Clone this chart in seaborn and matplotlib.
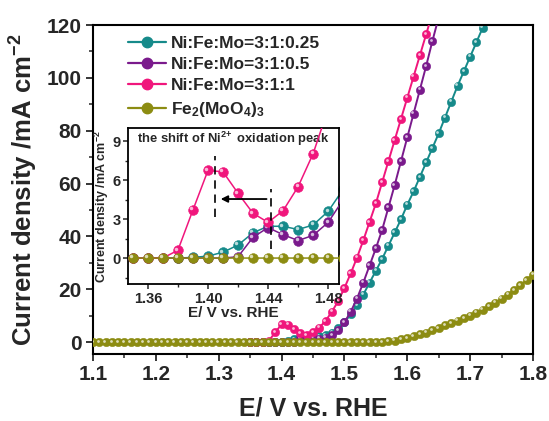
import numpy as np
import pandas as pd
import matplotlib
matplotlib.use("Agg")
import matplotlib.pyplot as plt
import seaborn as sns
from matplotlib.transforms import ScaledTranslation
from matplotlib.lines import Line2D

# ---------------- data ----------------
labels = ["Ni:Fe:Mo=3:1:0.25", "Ni:Fe:Mo=3:1:0.5", "Ni:Fe:Mo=3:1:1", r"Fe$_2$(MoO$_4$)$_3$"]
colors = ["#168A8A", "#7A1A8C", "#F0167C", "#8C8C12"]

E_teal = [1.35, 1.36, 1.37, 1.38, 1.39, 1.40, 1.41, 1.42, 1.43, 1.44, 1.45, 1.46, 1.47, 1.48,
          1.49, 1.50, 1.51, 1.52, 1.53, 1.54, 1.55, 1.56, 1.57, 1.58, 1.59, 1.60, 1.61, 1.62,
          1.63, 1.64, 1.65, 1.66, 1.67, 1.68, 1.69, 1.70, 1.71, 1.72]
j_teal = [0, 0, 0, 0, 0.05, 0.15, 0.45, 1.0, 1.95, 2.45, 2.45, 2.2, 2.55, 3.6,
          5.3, 7.5, 10.5, 14.0, 18.0, 22.5, 27.0, 31.5, 36.5, 41.5, 46.5, 52.0, 57.0, 62.5,
          68.0, 73.5, 79.0, 85.0, 91.0, 97.0, 102.5, 108.0, 113.5, 119.0]

E_purple = [1.35, 1.36, 1.37, 1.38, 1.39, 1.40, 1.41, 1.42, 1.43, 1.44, 1.45, 1.46, 1.47, 1.48,
            1.49, 1.50, 1.51, 1.52, 1.53, 1.54, 1.55, 1.56, 1.57, 1.58, 1.59, 1.60, 1.61, 1.62,
            1.63, 1.64, 1.65]
j_purple = [0, 0, 0, 0, 0, 0, 0, 0.1, 1.6, 2.35, 1.8, 1.35, 1.75, 2.75,
            4.5, 7.5, 11.5, 16.5, 22.5, 29.0, 35.5, 42.5, 51.0, 59.5, 68.5, 77.5, 86.5, 95.5,
            104.5, 114.0, 123.0]

E_pink = [1.35, 1.36, 1.37, 1.38, 1.39, 1.40, 1.41, 1.42, 1.43, 1.44, 1.45, 1.46, 1.47, 1.48,
          1.49, 1.50, 1.51, 1.52, 1.53, 1.54, 1.55, 1.56, 1.57, 1.58, 1.59, 1.60, 1.61, 1.62,
          1.63, 1.64]
j_pink = [0, 0, 0, 0.6, 3.7, 6.75, 6.65, 5.0, 3.45, 2.75, 3.65, 5.5, 8.05, 11.5,
          15.5, 20.5, 26.0, 32.0, 38.5, 45.5, 52.5, 60.5, 68.5, 76.5, 84.5, 92.5, 100.5, 108.5,
          116.5, 124.5]

E_olive = [1.10, 1.11, 1.12, 1.13, 1.14, 1.15, 1.16, 1.17, 1.18, 1.19, 1.20, 1.21, 1.22, 1.23,
           1.24, 1.25, 1.26, 1.27, 1.28, 1.29, 1.30, 1.31, 1.32, 1.33, 1.34, 1.35, 1.36, 1.37,
           1.38, 1.39, 1.40, 1.41, 1.42, 1.43, 1.44, 1.45, 1.46, 1.47, 1.48, 1.49, 1.50, 1.51,
           1.52, 1.53, 1.54, 1.55, 1.56, 1.57, 1.58, 1.59, 1.60, 1.61, 1.62, 1.63, 1.64, 1.65,
           1.66, 1.67, 1.68, 1.69, 1.70, 1.71, 1.72, 1.73, 1.74, 1.75, 1.76, 1.77, 1.78, 1.79, 1.80]
j_olive = [0]*46 + [0.1, 0.3, 0.6, 1.0, 1.6, 2.2, 2.9, 3.6, 4.5, 5.4,
                    6.3, 7.2, 8.1, 9.0, 10.0, 11.1, 12.3, 13.5, 14.9, 16.4, 18.0, 19.7, 21.5, 23.5, 25.5]

series = [(E_teal, j_teal), (E_purple, j_purple), (E_pink, j_pink), (E_olive, j_olive)]

# dashed guide lines and arrow of the inset
peak_new = 1.405
peak_old = 1.442

# ---------------- style ----------------
sns.set_theme(style="ticks")
plt.rcParams["font.family"] = ["Liberation Sans", "DejaVu Sans"]
plt.rcParams["mathtext.fontset"] = "custom"
plt.rcParams["mathtext.rm"] = "Liberation Sans:bold"
plt.rcParams["mathtext.bf"] = "Liberation Sans:bold"
plt.rcParams["mathtext.it"] = "Liberation Sans:bold"
plt.rcParams["mathtext.default"] = "rm"

fig = plt.figure(figsize=(5.49, 4.21), dpi=100)
ax = fig.add_axes([0.1694, 0.1591, 0.8015, 0.7815])
axi = fig.add_axes([0.2337, 0.3254, 0.3832, 0.3698])


def lighten(c, f):
    r, g, b = matplotlib.colors.to_rgb(c)
    return (r + (1 - r) * f, g + (1 - g) * f, b + (1 - b) * f)


def draw(a, ms, lw, hl_ms, off):
    for k, ((E, j), col, lab) in enumerate(zip(series, colors, labels)):
        df = pd.DataFrame({"E": E, "j": j})
        sns.lineplot(data=df, x="E", y="j", ax=a, color=col, lw=lw, marker="o",
                     markersize=ms, markeredgecolor=col, markeredgewidth=0.4,
                     sort=False, estimator=None, zorder=2 + k, legend=False)
        tr = a.transData + ScaledTranslation(-off, off, fig.dpi_scale_trans)
        a.plot(E, j, "o", ms=hl_ms, color=lighten(col, 0.7), mec="none",
               transform=tr, zorder=2.5 + k)


# ---------------- main axes ----------------
draw(ax, 6.0, 1.4, 2.0, 0.013)
ax.set_xlim(1.1, 1.8)
ax.set_ylim(-4.5, 120)
ax.set_xticks([1.1, 1.2, 1.3, 1.4, 1.5, 1.6, 1.7, 1.8])
ax.set_xticks(np.arange(1.15, 1.8, 0.1), minor=True)
ax.set_yticks([0, 20, 40, 60, 80, 100, 120])
ax.set_yticks([10, 30, 50, 70, 90, 110], minor=True)
ax.tick_params(which="major", direction="out", length=5, width=1.3, labelsize=15, pad=3)
ax.tick_params(which="minor", direction="out", length=3, width=1.1)
for lab in ax.get_xticklabels() + ax.get_yticklabels():
    lab.set_fontweight("bold")
for s in ax.spines.values():
    s.set_linewidth(1.5)
    s.set_color("black")
ax.set_xlabel("E/ V vs. RHE", fontsize=18, fontweight="bold", labelpad=9)
ax.set_ylabel(r"Current density /mA cm$^{-2}$", fontsize=18.5, fontweight="bold", labelpad=5)

handles = [Line2D([], [], color=c, lw=1.6, marker="o", ms=7.5, mec=c) for c in colors]
leg = ax.legend(handles, labels, loc="upper left", bbox_to_anchor=(0.055, 1.0),
                frameon=False, prop={"weight": "bold", "size": 12.5}, handlelength=2.2,
                handletextpad=0.3, labelspacing=0.36, borderaxespad=0.2)

# ---------------- inset ----------------
draw(axi, 7.0, 1.1, 2.5, 0.016)
axi.set_xlim(1.347, 1.487)
axi.set_ylim(-2, 10)
axi.set_xticks([1.36, 1.40, 1.44, 1.48])
axi.set_xticks([1.38, 1.42, 1.46], minor=True)
axi.set_yticks([0, 3, 6, 9])
axi.set_yticks([-1.5, 1.5, 4.5, 7.5], minor=True)
axi.set_xticklabels(["1.36", "1.40", "1.44", "1.48"])
axi.tick_params(which="major", direction="out", length=3.5, width=1.1, labelsize=10.5, pad=2)
axi.tick_params(which="minor", direction="out", length=2, width=1.0)
for lab in axi.get_xticklabels() + axi.get_yticklabels():
    lab.set_fontweight("bold")
for s in axi.spines.values():
    s.set_linewidth(1.3)
    s.set_color("black")
axi.set_xlabel("E/ V vs. RHE", fontsize=11, fontweight="bold", labelpad=0)
axi.set_ylabel(r"Current density /mA cm$^{-2}$", fontsize=9.0, fontweight="bold", labelpad=1)
axi.text(0.5, 0.935, r"the shift of Ni$^{2\!+}$ oxidation peak", transform=axi.transAxes,
         ha="center", va="center", fontsize=9.4, fontweight="bold")
axi.plot([peak_new, peak_new], [3.2, 7.9], color="black", lw=1.2, ls=(0, (5, 3.5)), zorder=10)
axi.plot([peak_old, peak_old], [0.7, 5.3], color="black", lw=1.2, ls=(0, (5, 3.5)), zorder=10)
axi.annotate("", xy=(1.4085, 4.55), xytext=(1.439, 4.55),
             arrowprops=dict(arrowstyle="-|>", color="black", lw=1.3,
                             mutation_scale=10, shrinkA=0, shrinkB=0), zorder=11)

fig.savefig("out.png", dpi=100)
